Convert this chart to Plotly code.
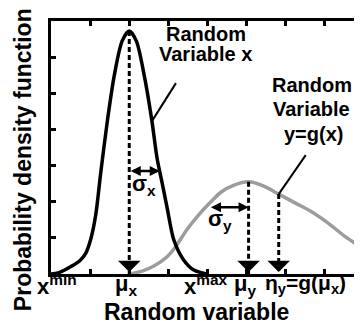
import plotly.graph_objects as go

# ---- data ----
# black curve: random variable x
curve_x_x = [0, 0.18, 0.35, 0.53, 0.73, 0.89, 1.01, 1.14, 1.27, 1.44, 1.62, 1.82, 2.0,
             2.18, 2.38, 2.58, 2.71, 2.84, 2.96, 3.14, 3.39, 3.65, 3.98]
curve_x_y = [0, 0.03, 0.11, 0.22, 0.36, 0.58, 0.94, 1.61, 2.79, 4.23, 5.51, 6.45, 6.72,
             6.45, 5.51, 4.23, 3.21, 2.52, 1.88, 0.94, 0.39, 0.11, 0]
# gray curve: random variable y = g(x)
curve_y_x = [2.0, 2.33, 2.63, 2.96, 3.16, 3.49, 3.77, 4.08, 4.35, 4.68, 5.05, 5.44,
             5.82, 6.25, 6.63, 7.04, 7.54, 8.0]
curve_y_y = [0, 0.08, 0.22, 0.47, 0.72, 1.25, 1.63, 1.99, 2.27, 2.46, 2.55, 2.43,
             2.21, 1.96, 1.74, 1.44, 1.02, 0.69]

mu_x = 2.0
peak_x = 6.72
sigma_x = 0.78
mu_y = 5.05
peak_y = 2.55
sigma_y = 1.0
eta_y = 5.82
eta_h = 2.21
x_min = 0.0
x_max = 3.98

tick_vals_x = [1, 2, 3, 4, 5, 6, 7]
tick_vals_y = [1, 2, 3, 4, 5, 6]
tick_text = ["x<sup>min</sup>", "μ<sub>x</sub>", "x<sup>max</sup>", "μ<sub>y</sub>",
             "η<sub>y</sub>=g(μ<sub>x</sub>)"]
tick_at = [x_min, mu_x, x_max, mu_y, eta_y]

FONT = "Liberation Sans, Arial, sans-serif"

fig = go.Figure()
fig.add_trace(go.Scatter(x=curve_y_x, y=curve_y_y, mode="lines",
                         line=dict(color="#9c9c9c", width=3.5, shape="spline", smoothing=0.8),
                         hoverinfo="skip"))
fig.add_trace(go.Scatter(x=curve_x_x, y=curve_x_y, mode="lines",
                         line=dict(color="black", width=3.5, shape="spline", smoothing=0.8),
                         hoverinfo="skip"))
for xv, top in [(mu_x, peak_x), (mu_y, peak_y), (eta_y, eta_h)]:
    fig.add_trace(go.Scatter(x=[xv, xv], y=[top, 0], mode="lines",
                             line=dict(color="black", width=3, dash="5px,3px"),
                             hoverinfo="skip"))

ann = []
# arrowheads at the bottom of dashed lines
for xv in [mu_x, mu_y, eta_y]:
    ann.append(dict(x=xv, y=0, xref="x", yref="y", text="", showarrow=True,
                    ax=0, ay=-13, arrowhead=1, arrowsize=1.25, arrowwidth=3,
                    arrowcolor="black", standoff=2))
# sigma arrows
for x0, x1, h in [(mu_x, mu_x + sigma_x, 2.85), (mu_y - sigma_y, mu_y, 1.85)]:
    ann.append(dict(x=x1, y=h, ax=x0, ay=h, xref="x", yref="y", axref="x", ayref="y",
                    text="", showarrow=True, arrowside="end+start",
                    arrowhead=2, startarrowhead=2, arrowsize=0.8, startarrowsize=0.8,
                    arrowwidth=2.5, arrowcolor="black"))
bold = dict(family=FONT, color="black", weight="bold")
# sigma labels
ann.append(dict(x=2.38, y=2.45, xref="x", yref="y", text="σ<sub>x</sub>", showarrow=False,
                font=dict(size=22, **bold)))
ann.append(dict(x=4.31, y=1.50, xref="x", yref="y", text="σ<sub>y</sub>", showarrow=False,
                font=dict(size=22, **bold)))
# curve labels
for txt, xx, yy in [("Random", 3.95, 6.64), ("Variable x", 3.95, 6.08),
                    ("Random", 6.66, 5.23), ("Variable", 6.66, 4.57), ("y=g(x)", 6.7, 3.88)]:
    ann.append(dict(x=xx, y=yy, xref="x", yref="y", text=txt, showarrow=False,
                    font=dict(size=20, **bold)))
# tick labels
for i, (txt, xv) in enumerate(zip(tick_text, tick_at)):
    if i == len(tick_text) - 1:
        pos = dict(x=xv, xref="x", xanchor="left", xshift=-16)
        fsize = 21
    elif i == 0:
        pos = dict(x=xv, xref="x", xanchor="left", xshift=-16)
        fsize = 22
    else:
        pos = dict(x=xv, xref="x", xanchor="center", xshift=[0, -3, -1, -4][i])
        fsize = 22
    ann.append(dict(y=0, yref="paper", text=txt, showarrow=False,
                    yanchor="top", yshift=5, font=dict(size=fsize, **bold), **pos))
# axis titles
ann.append(dict(x=0.465, y=-0.152, xref="paper", yref="paper", text="Random variable",
                showarrow=False, xanchor="center", yanchor="middle",
                font=dict(size=23, **bold)))
ann.append(dict(x=-0.0886, y=0.451, xref="paper", yref="paper",
                text="Probability density function", textangle=-90,
                xanchor="center", yanchor="middle",
                showarrow=False, font=dict(size=23, **bold)))

shapes = []
for ax_, ay_, dx, dy in [(2.58, 4.23, 24, 38), (eta_y, eta_h, 27, 39)]:
    shapes.append(dict(type="line", xref="x", yref="y", xsizemode="pixel", ysizemode="pixel",
                       xanchor=ax_, yanchor=ay_, x0=0, y0=0, x1=dx, y1=dy,
                       line=dict(color="black", width=2)))

axis_common = dict(showgrid=False, zeroline=False, showline=True, linecolor="black",
                   linewidth=3, mirror="ticks", ticks="inside", ticklen=5, tickwidth=3,
                   tickcolor="black", showticklabels=False)
fig.update_layout(
    width=362, height=330, autosize=False,
    margin=dict(l=43, r=3, t=13, b=64),
    paper_bgcolor="white", plot_bgcolor="white",
    showlegend=False,
    xaxis=dict(range=[0, 8], tickvals=tick_vals_x, **axis_common),
    yaxis=dict(range=[0, 7], tickvals=tick_vals_y, **axis_common),
    annotations=ann, shapes=shapes,
)
fig.write_html("out.html")
